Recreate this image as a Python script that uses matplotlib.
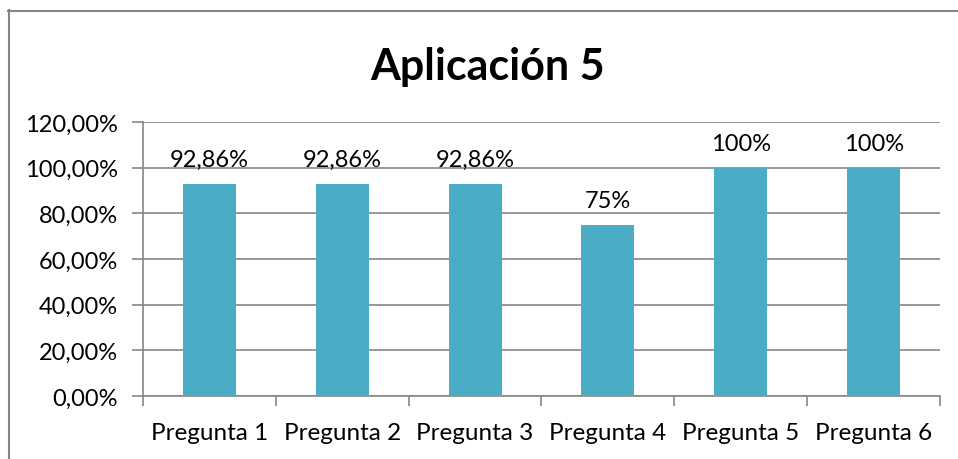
import matplotlib
matplotlib.use("Agg")
import matplotlib.pyplot as plt
from matplotlib.lines import Line2D
from matplotlib.ticker import FuncFormatter

categories = ["Pregunta 1", "Pregunta 2", "Pregunta 3", "Pregunta 4", "Pregunta 5", "Pregunta 6"]
values = [92.86, 92.86, 92.86, 75, 100, 100]
labels = ["92,86%", "92,86%", "92,86%", "75%", "100%", "100%"]
yticks = [0, 20, 40, 60, 80, 100, 120]

plt.rcParams['font.family'] = ['Lato', 'DejaVu Sans']

W, H = 958, 460
fig = plt.figure(figsize=(W/100, H/100), dpi=100)
ax = fig.add_axes([143/W, 1-397/H, (940-143)/W, (397-123)/H])

x = list(range(len(categories)))
ax.bar(x, values, width=0.4, color="#4BACC6", zorder=3)
ax.set_xlim(-0.5, len(categories)-0.5)
ax.set_ylim(0, 120)
ax.set_yticks(yticks)
ax.yaxis.set_major_formatter(FuncFormatter(lambda v, p: f"{v:.2f}".replace(".", ",") + "%"))
ax.set_xticks(x)
ax.set_xticklabels(categories)
ax.set_xticks([i - 0.5 for i in range(len(categories)+1)], minor=True)
ax.tick_params(axis='x', which='major', length=0, pad=19, labelsize=17.5)
ax.tick_params(axis='x', which='minor', length=7, color="#868686", width=1.2)
ax.tick_params(axis='y', length=8, color="#868686", width=1.2, labelsize=17, pad=10)
ax.grid(axis='y', color="#868686", linewidth=1.2, zorder=0)
for s in ['top', 'right']:
    ax.spines[s].set_visible(False)
for s in ['left', 'bottom']:
    ax.spines[s].set_color("#868686")
    ax.spines[s].set_linewidth(1.2)

for xi, v, lab in zip(x, values, labels):
    ax.annotate(lab, (xi, v), xytext=(0, 10), textcoords="offset points",
                ha="center", va="bottom", fontsize=17)

fig.text(488/W, 1-67/H, "Aplicación 5", ha="center", va="center",
         fontsize=31, fontweight="bold")

fig.add_artist(Line2D([8.5/W, 8.5/W], [0, 1-11/H], color="#868686", linewidth=1.5, transform=fig.transFigure))
fig.add_artist(Line2D([8/W, 1], [1-11.5/H, 1-11.5/H], color="#868686", linewidth=1.5, transform=fig.transFigure))

fig.savefig("out.png", dpi=100, facecolor="white")
